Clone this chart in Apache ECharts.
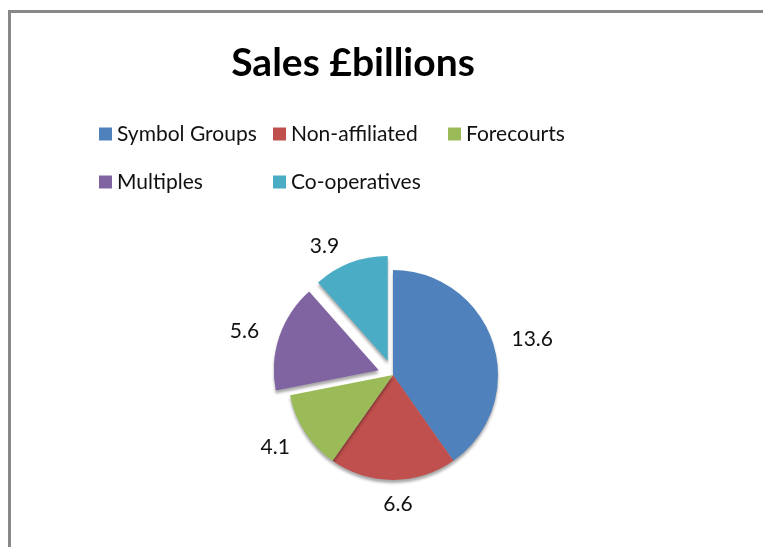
<!DOCTYPE html>
<html>
<head>
<meta charset="utf-8">
<script src="https://cdn.jsdelivr.net/npm/echarts@6/dist/echarts.min.js"></script>
<style>
  html, body { margin: 0; padding: 0; background: #fff; }
  #frame { position: absolute; left: 8px; top: 10px; width: 800px; height: 600px;
           border-left: 3px solid #888; border-top: 3px solid #888; }
  #chart { position: absolute; left: 0; top: 0; width: 763px; height: 547px; }
</style>
</head>
<body>
<div id="frame"></div>
<div id="chart"></div>
<script>
const categories = ['Symbol Groups', 'Non-affiliated', 'Forecourts', 'Multiples', 'Co-operatives'];
const salesValues = [13.6, 6.6, 4.1, 5.6, 3.9];
const explodedSlices = ['Multiples', 'Co-operatives'];
const colors = ['#4F81BD', '#C0504D', '#9BBB59', '#8064A2', '#4BACC6'];
// label distance per slice (Excel 3D pie pushes lower labels further out)
const labelDist = [14, 24, 12, 16, 18];

const chart = echarts.init(document.getElementById('chart'));

const legendText = { fontFamily: 'Lato', fontSize: 21, color: '#111', lineHeight: 22 };
const legendCol = (left, data) => ({
  orient: 'vertical',
  left: left,
  top: 118,
  itemWidth: 13,
  itemHeight: 13,
  itemGap: 26,
  icon: 'rect',
  selectedMode: false,
  textStyle: legendText,
  data: data,
});

chart.setOption({
  color: colors,
  title: {
    text: 'Sales £billions',
    left: 348,
    textAlign: 'center',
    top: 39,
    textStyle: { fontFamily: 'Lato', fontWeight: 'bold', fontSize: 39, color: '#000' },
  },
  legend: [
    legendCol(94, [categories[0], categories[3]]),
    legendCol(268, [categories[1], categories[4]]),
    legendCol(443, [categories[2]]),
  ],
  series: [{
    type: 'pie',
    center: [393, 375],
    radius: 105,
    startAngle: 90,
    clockwise: true,
    selectedMode: 'multiple',
    selectedOffset: 15,
    avoidLabelOverlap: false,
    label: {
      show: true,
      position: 'outside',
      formatter: '{c}',
      fontFamily: 'Lato',
      fontSize: 21,
      color: '#111',
    },
    labelLine: { show: false, length: 14, length2: 0 },
    labelLayout: (p) => {
      if (p.dataIndex === 1) return { align: 'center' };
      if (p.dataIndex === 2) return { dy: 8 };
      return {};
    },
    itemStyle: {
      shadowColor: 'rgba(0,0,0,0.35)',
      shadowBlur: 3,
      shadowOffsetY: 3,
    },
    emphasis: { disabled: true },
    data: categories.map((name, i) => ({
      name: name,
      value: salesValues[i],
      selected: explodedSlices.includes(name),
      labelLine: { show: false, length: labelDist[i], length2: 0 },
    })),
  }],
});
</script>
</body>
</html>
